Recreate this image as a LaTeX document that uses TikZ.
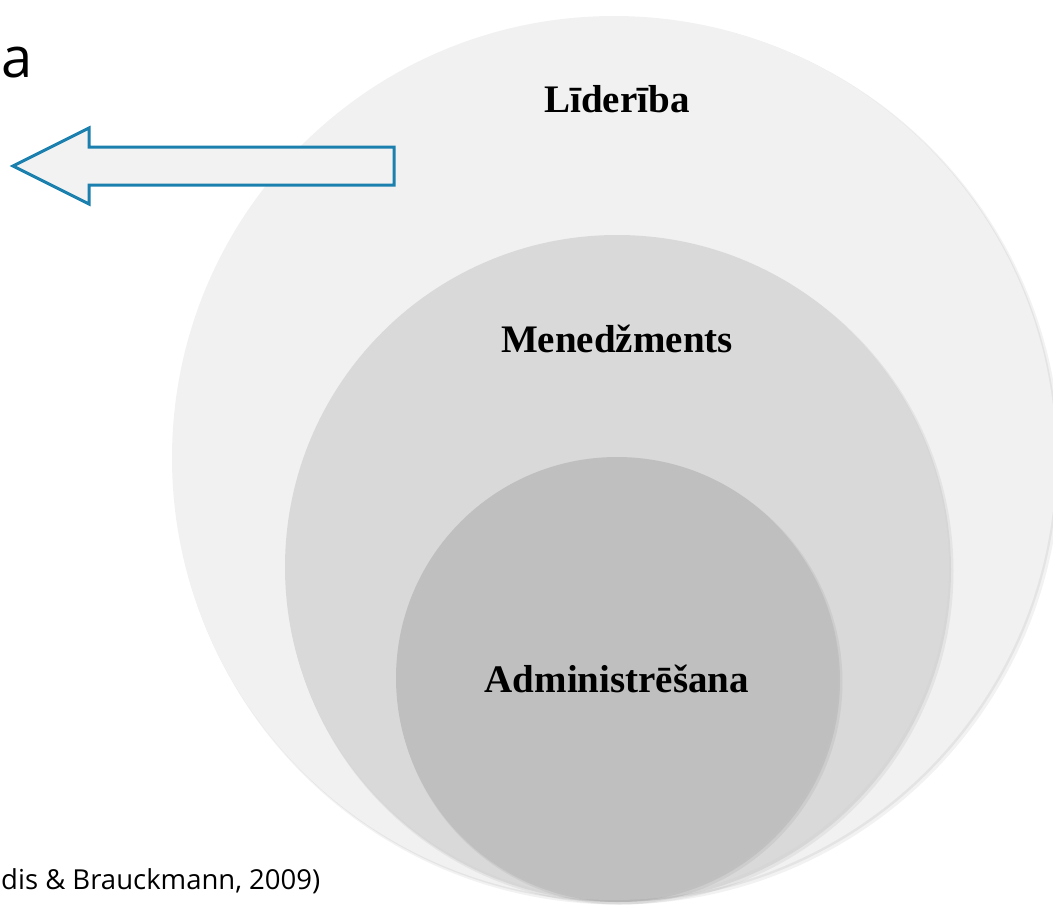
\documentclass[tikz,border=0pt]{standalone}
\usepackage{fontspec}
\setmainfont{Liberation Serif}
\newfontfamily\uifont{Open Sans}
\definecolor{ringA}{HTML}{F1F1F1}
\definecolor{ringB}{HTML}{D9D9D9}
\definecolor{ringC}{HTML}{BFBFBF}
\definecolor{arrowblue}{HTML}{1B80AE}
\definecolor{arrowfill}{HTML}{F2F2F2}
\begin{document}
\begin{tikzpicture}[x=1pt,y=-1pt,
  lbl/.style={font=\bfseries\fontsize{39}{46}\selectfont, text=black, inner sep=0pt, anchor=base},
  shadowA/.style={fill=black, opacity=0.05},
  shadowB/.style={fill=black, opacity=0.06}]
\useasboundingbox (0,0) rectangle (1053,906);
\clip (0,0) rectangle (1053,906);
% outer ring
\fill[shadowA] (617,461) circle[radius=443.5pt];
\fill[shadowB] (615.5,459.5) circle[radius=442.5pt];
\fill[ringA] (614,458) circle[radius=442pt];
% middle ring
\fill[shadowA] (620,571) circle[radius=333.5pt];
\fill[shadowB] (618.5,569.5) circle[radius=332.5pt];
\fill[ringB] (617,567) circle[radius=332pt];
% inner ring
\fill[shadowA] (620,682) circle[radius=222.5pt];
\fill[shadowB] (618.5,680.5) circle[radius=221.5pt];
\fill[ringC] (617,678) circle[radius=221pt];
% labels
\node[lbl] (lid) at (617,112) {Līderība};
\node[lbl] (men) at (617,352) {Menedžments};
\node[lbl] (adm) at (617,692) {Administrēšana};
% arrow
\draw[arrowblue, line width=3pt, fill=arrowfill, line join=miter]
  (394,147) -- (89,147) -- (89,128) -- (13,166) -- (89,204) -- (89,185) -- (394,185) -- cycle;
% texts at the edges
\node[font=\uifont\fontsize{56}{60}\selectfont, anchor=base west, inner sep=0pt] (ttl) at (1,77) {a};
\node[font=\uifont\fontsize{27.5}{33}\selectfont, anchor=base west, inner sep=0pt] (src) at (1,889) {dis \& Brauckmann, 2009)};
\end{tikzpicture}
\end{document}
